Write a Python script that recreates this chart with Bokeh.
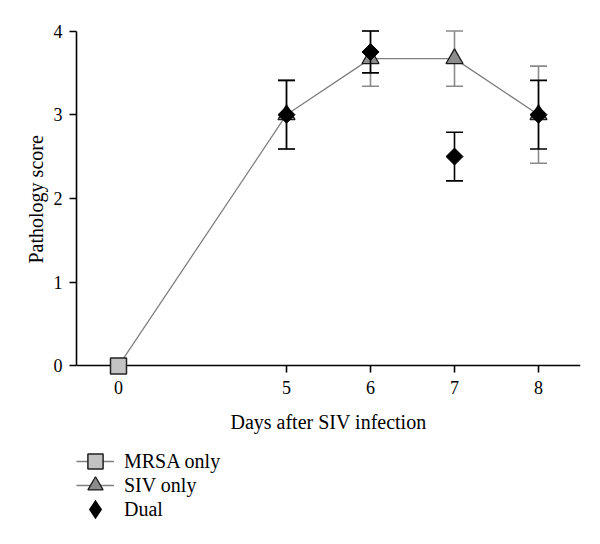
import math
from bokeh.plotting import figure
from bokeh.models import ColumnDataSource, FixedTicker, Legend, LegendItem, Range1d, Title
from bokeh.embed import file_html
from bokeh.resources import INLINE

# ---- data ----
tick_days = [0, 5, 6, 7, 8]
tick_pos = [0, 2, 3, 4, 5]          # broken x axis: days 1-4 are not shown
tick_labels = ["0", "5", "6", "7", "8"]
y_ticks = [0, 1, 2, 3, 4]

mrsa_days = [0]
mrsa_vals = [0.0]

siv_days = [5, 6, 7, 8]
siv_vals = [3.0, 3.67, 3.67, 3.0]
siv_err = [0.41, 0.33, 0.33, 0.58]

dual_days = [5, 6, 7, 8]
dual_vals = [3.0, 3.75, 2.5, 3.0]
dual_err = [0.41, 0.25, 0.29, 0.41]

series_labels = ["MRSA only", "SIV only", "Dual"]

pos = dict(zip(tick_days, tick_pos))

FONT = "Liberation Serif"

# frame extends below y=0 so that the legend (drawn inside the frame) is not clipped
p = figure(width=600, height=544, output_backend="svg", toolbar_location=None,
           x_range=Range1d(-0.5, 5.5), y_range=Range1d(-2.05, 4.03),
           min_border_left=76, min_border_right=20, min_border_top=28,
           min_border_bottom=7,
           background_fill_color="white", border_fill_color="white")
p.outline_line_color = None
p.grid.visible = False

def src(days, vals, errs=None):
    d = dict(x=[pos[v] for v in days], y=vals)
    if errs is not None:
        d["lo"] = [v - e for v, e in zip(vals, errs)]
        d["hi"] = [v + e for v, e in zip(vals, errs)]
    return ColumnDataSource(d)

s_m = src(mrsa_days, mrsa_vals)
s_s = src(siv_days, siv_vals, siv_err)
s_d = src(dual_days, dual_vals, dual_err)
s_line = ColumnDataSource(dict(x=[pos[v] for v in mrsa_days + siv_days],
                               y=mrsa_vals + siv_vals))

GRAY_ERR = "#8a8a8a"
# SIV error bars (gray)
p.segment(x0="x", y0="lo", x1="x", y1="hi", source=s_s, line_color=GRAY_ERR, line_width=1.6)
p.scatter(x="x", y="hi", source=s_s, marker="dash", size=17, line_color=GRAY_ERR, line_width=1.6)
p.scatter(x="x", y="lo", source=s_s, marker="dash", size=17, line_color=GRAY_ERR, line_width=1.6)

# connecting line
line_r = p.line(x="x", y="y", source=s_line, line_color="#808080", line_width=1.3)

tri_r = p.scatter(x="x", y="y", source=s_s, marker="triangle", size=17,
                  fill_color="#8c8c8c", line_color="#1a1a1a", line_width=1.3)

# Dual error bars (black)
p.segment(x0="x", y0="lo", x1="x", y1="hi", source=s_d, line_color="black", line_width=1.6)
p.scatter(x="x", y="hi", source=s_d, marker="dash", size=17, line_color="black", line_width=1.6)
p.scatter(x="x", y="lo", source=s_d, marker="dash", size=17, line_color="black", line_width=1.6)

dia_r = p.scatter(x="x", y="y", source=s_d, marker="square", angle=math.pi / 4, size=12,
                  fill_color="black", line_color="black", line_width=1)
# legend key for the diamonds (legend keys ignore marker angle)
dia_key = p.scatter(x="x", y="y", source=s_d, marker="diamond",
                    fill_color="black", line_color="black", line_width=2.5,
                    line_join="miter", visible=False)

sq_r = p.scatter(x="x", y="y", source=s_m, marker="square", size=16,
                 fill_color="#c3c3c3", line_color="#222222", line_width=1.5, level="overlay")

# axes
for ax in (p.xaxis[0], p.yaxis[0]):
    ax.axis_line_width = 1.6
    ax.major_tick_line_width = 1.6
    ax.major_tick_out = 7
    ax.major_tick_in = 0
    ax.minor_tick_line_color = None
    ax.major_label_text_font = FONT
    ax.major_label_text_font_size = "18px"
    ax.major_label_text_color = "black"
    ax.axis_label_text_font = FONT
    ax.axis_label_text_font_size = "20px"
    ax.axis_label_text_font_style = "normal"
    ax.axis_label_text_color = "black"

p.xaxis.fixed_location = 0
p.xaxis.ticker = FixedTicker(ticks=tick_pos)
p.xaxis.major_label_overrides = {t: l for t, l in zip(tick_pos, tick_labels)}
p.xaxis.axis_label = "Days after SIV infection"
p.xaxis.major_label_standoff = 8
p.xaxis.axis_label_standoff = 14

p.yaxis.ticker = FixedTicker(ticks=y_ticks)
p.yaxis.bounds = (0, 4)
p.yaxis.major_label_standoff = 7

# y-axis title, centred on the 0-4 part of the axis
ytitle = Title(text="Pathology score", align="left", offset=274, standoff=8,
               text_font=FONT, text_font_size="20px", text_font_style="normal",
               text_color="black")
p.add_layout(ytitle, "left")

key_renderers = [[line_r, sq_r], [line_r, tri_r], [dia_key]]
for i, (lab, rends) in enumerate(zip(series_labels, key_renderers)):
    lg = Legend(items=[LegendItem(label=lab, renderers=rends)],
                location=(0, 55 - 24 * i))
    lg.label_text_font = FONT
    lg.label_text_font_size = "20px"
    lg.label_text_color = "black"
    lg.glyph_width = 38
    lg.glyph_height = 42
    lg.label_standoff = 10
    lg.padding = 0
    lg.margin = 0
    lg.border_line_color = None
    lg.background_fill_alpha = 0
    p.add_layout(lg)

open("out.html", "w").write(file_html(p, INLINE))
